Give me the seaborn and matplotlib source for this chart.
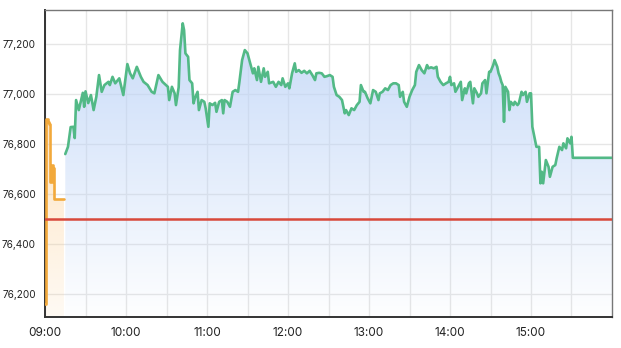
import numpy as np
import pandas as pd
import matplotlib
matplotlib.use("Agg")
import matplotlib.pyplot as plt
import matplotlib.dates as mdates
import seaborn as sns

# ---------------- data ----------------
pre_times = ["09:00", "09:01", "09:02", "09:03", "09:04", "09:05", "09:06", "09:07",
             "09:10", "09:14"]
pre_prices = [76160, 76900, 76890, 76880, 76650, 76715, 76705, 76580,
              76580, 76580]

main_times = [
    "09:15", "09:17", "09:19", "09:21", "09:22", "09:23", "09:25", "09:28", "09:29", "09:30",
    "09:32", "09:34", "09:36", "09:38", "09:40", "09:42", "09:44", "09:47", "09:48", "09:50",
    "09:52", "09:55", "09:58", "10:01", "10:03", "10:05", "10:08", "10:11", "10:13", "10:16",
    "10:19", "10:21", "10:24", "10:27", "10:31", "10:32", "10:34", "10:36", "10:37", "10:39",
    "10:40", "10:42", "10:43", "10:44", "10:46", "10:47", "10:49", "10:50", "10:51", "10:53",
    "10:54", "10:56", "10:58", "10:59", "11:01", "11:02", "11:04", "11:06", "11:07", "11:09",
    "11:11", "11:12", "11:13", "11:15", "11:17", "11:19", "11:21", "11:23", "11:24", "11:26",
    "11:28", "11:30", "11:32", "11:34", "11:35", "11:37", "11:38", "11:40", "11:42", "11:43",
    "11:45", "11:46", "11:49", "11:51", "11:53", "11:55", "11:56", "11:58", "12:00", "12:01",
    "12:03", "12:05", "12:06", "12:08", "12:10", "12:12", "12:14", "12:16", "12:18", "12:20",
    "12:21", "12:23", "12:25", "12:27", "12:29", "12:31", "12:33", "12:34", "12:36", "12:38",
    "12:40", "12:42", "12:43", "12:45", "12:47", "12:49", "12:51", "12:53", "12:54", "12:56",
    "12:57", "12:59", "13:01", "13:03", "13:05", "13:07", "13:08", "13:10", "13:12", "13:14",
    "13:16", "13:18", "13:20", "13:22", "13:23", "13:25", "13:26", "13:28", "13:30", "13:32",
    "13:34", "13:35", "13:37", "13:39", "13:41", "13:43", "13:44", "13:46", "13:48", "13:50",
    "13:51", "13:53", "13:55", "13:57", "13:59", "14:00", "14:01", "14:03", "14:04", "14:06",
    "14:08", "14:09", "14:11", "14:12", "14:14", "14:15", "14:17", "14:18", "14:20", "14:21",
    "14:23", "14:24", "14:26", "14:27", "14:29", "14:30", "14:32", "14:33", "14:35", "14:36",
    "14:37", "14:38", "14:39", "14:40", "14:41", "14:43", "14:44", "14:45", "14:47", "14:48",
    "14:50", "14:51", "14:53", "14:54", "14:56", "14:57", "14:59", "15:00", "15:01", "15:03",
    "15:04", "15:06", "15:07", "15:08", "15:09", "15:11", "15:13", "15:14", "15:16", "15:18",
    "15:19", "15:21", "15:23", "15:24", "15:26", "15:27", "15:29", "15:30", "15:31", "16:00",
]
main_prices = [
    76760, 76789, 76868, 76869, 76824, 76976, 76936, 77005, 76949, 77011,
    76964, 76996, 76936, 76989, 77076, 77009, 77036, 77049, 77036, 77069,
    77043, 77063, 76996, 77120, 77083, 77063, 77109, 77069, 77049, 77036,
    77009, 77003, 77076, 77049, 77029, 76976, 77029, 77003, 76956, 77027,
    77176, 77283, 77256, 77163, 77149, 77056, 77043, 76963, 76983, 77009,
    76936, 76976, 76969, 76943, 76869, 76963, 76956, 76965, 76929, 76969,
    76976, 76923, 76976, 76969, 76949, 77009, 77016, 77009, 77049, 77136,
    77176, 77163, 77123, 77083, 77103, 77056, 77109, 77049, 77103, 77069,
    77089, 77043, 77049, 77029, 77049, 77036, 77063, 77029, 77043, 77023,
    77083, 77123, 77089, 77096, 77085, 77093, 77083, 77093, 77076, 77056,
    77083, 77085, 77083, 77069, 77072, 77076, 77069, 77029, 76996, 76989,
    76976, 76923, 76936, 76916, 76943, 76936, 76956, 76969, 77036, 77009,
    77009, 76983, 76963, 77016, 77009, 76976, 77003, 77009, 77023, 77016,
    77036, 77043, 77043, 77036, 76989, 77009, 76969, 76949, 76989, 77016,
    77036, 77089, 77116, 77096, 77083, 77116, 77103, 77107, 77103, 77109,
    77069, 77049, 77036, 77043, 77049, 77069, 77036, 77043, 77009, 77029,
    77049, 76976, 77023, 77003, 77043, 77049, 76963, 77023, 77003, 76989,
    77003, 77043, 77056, 77003, 77089, 77089, 77116, 77136, 77109, 77083,
    77069, 77049, 77036, 76889, 77029, 77009, 76936, 76969, 76956, 76969,
    76956, 76963, 77009, 76996, 77009, 76969, 77003, 77003, 76869, 76816,
    76789, 76789, 76643, 76689, 76643, 76736, 76709, 76669, 76709, 76716,
    76743, 76789, 76776, 76803, 76783, 76823, 76803, 76829, 76745, 76745,
]

ref_price = 76500
x_tick_labels = ["09:00", "10:00", "11:00", "12:00", "13:00", "14:00", "15:00"]
y_ticks = [76200, 76400, 76600, 76800, 77000, 77200]

day = "2024-01-02 "
pre = pd.DataFrame({"time": pd.to_datetime([day + t for t in pre_times]),
                    "price": pre_prices})
main = pd.DataFrame({"time": pd.to_datetime([day + t for t in main_times]),
                     "price": main_prices})

# ---------------- style ----------------
sns.set_style("white")
plt.rcParams["font.family"] = ["Inter", "DejaVu Sans"]

fig = plt.figure(figsize=(6.21, 3.48), dpi=100)
ax = fig.add_axes([0.0725, 0.089, 0.913, 0.882])

x_start = mdates.date2num(pd.Timestamp(day + "09:00"))
x_end = mdates.date2num(pd.Timestamp(day + "16:00"))
y_min, y_max = 76108, 77336


def gradient_fill(ax, df, rgb, a_bottom, a_top):
    x = mdates.date2num(df["time"])
    y = df["price"].to_numpy()
    poly = ax.fill_between(x, y, y_min, color="none", lw=0)
    n = 256
    rgba = np.zeros((n, 1, 4))
    rgba[..., :3] = rgb
    rgba[..., 3] = np.linspace(a_bottom, a_top, n).reshape(-1, 1)
    im = ax.imshow(rgba, extent=[x.min(), x.max(), y_min, y_max], origin="lower",
                   aspect="auto", zorder=1, interpolation="bilinear")
    im.set_clip_path(poly.get_paths()[0], transform=ax.transData)


gradient_fill(ax, main, (0.74, 0.83, 0.97), 0.02, 0.85)
gradient_fill(ax, pre, (0.99, 0.80, 0.55), 0.10, 0.75)

sns.lineplot(data=main, x="time", y="price", ax=ax, color="#52b986", lw=1.9, zorder=4)
sns.lineplot(data=pre, x="time", y="price", ax=ax, color="#f2a93b", lw=1.9, zorder=4,
             drawstyle="steps-post")
ax.axhline(ref_price, color="#d8483a", lw=1.8, zorder=5)

ax.set_xlim(x_start, x_end)
ax.set_ylim(y_min, y_max)

ax.set_xticks(mdates.date2num(pd.to_datetime([day + t for t in x_tick_labels])))
ax.set_xticklabels(x_tick_labels)
ax.xaxis.set_minor_locator(mdates.MinuteLocator(byminute=[30]))
ax.set_yticks(y_ticks)
ax.set_yticklabels([f"{v:,}" for v in y_ticks])

ax.grid(True, which="major", color="#e6e6e6", lw=1, zorder=0)
ax.grid(True, which="minor", axis="x", color="#e6e6e6", lw=1, zorder=0)
ax.set_axisbelow(True)

ax.tick_params(axis="x", which="major", length=3.5, width=1, color="#333333",
               labelsize=8.5, labelcolor="#222222", pad=3.5)
ax.tick_params(axis="y", which="major", length=4, width=1, color="#333333",
               labelsize=7.2, labelcolor="#222222", pad=2.5)
ax.tick_params(axis="x", which="minor", length=0)
ax.set_xlabel("")
ax.set_ylabel("")

for s in ["left", "bottom"]:
    ax.spines[s].set_color("#333333")
    ax.spines[s].set_linewidth(1.4)
for s in ["top", "right"]:
    ax.spines[s].set_color("#777777")
    ax.spines[s].set_linewidth(1.0)

fig.savefig("out.png", dpi=100)
